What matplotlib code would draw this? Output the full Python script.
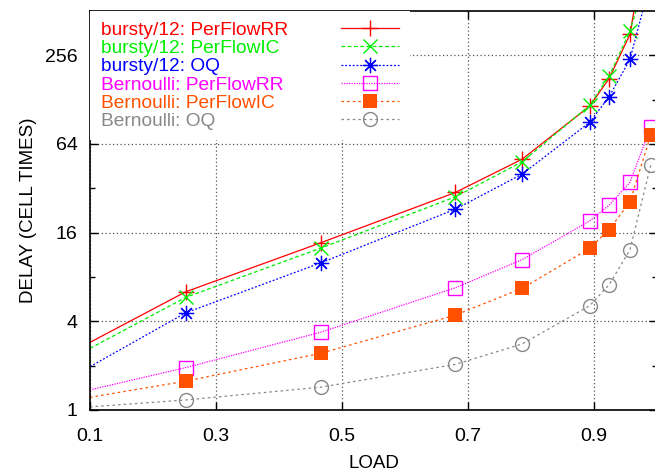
import matplotlib
matplotlib.use("Agg")
import matplotlib.pyplot as plt
from matplotlib.ticker import FixedLocator, NullFormatter, FixedFormatter

plt.rcParams['font.family'] = ['Liberation Sans', 'DejaVu Sans']

# ---- data ----
load = [0.10, 0.252, 0.467, 0.680, 0.786, 0.893, 0.924, 0.957, 0.99]

bursty_rr = [2.88, 6.35, 13.7, 30.0, 50.5, 115.7, 178.0, 355.0, 2340.0]
bursty_ic = [2.62, 5.82, 12.6, 28.0, 48.5, 117.0, 185.0, 374.0, 1100.0]
bursty_oq = [1.97, 4.57, 10.0, 23.1, 40.0, 89.7, 134.0, 240.0, 820.0]
bern_rr = [1.37, 1.94, 3.38, 6.76, 10.5, 19.2, 24.6, 35.1, 83.3]
bern_ic = [1.22, 1.57, 2.43, 4.41, 6.70, 12.5, 16.8, 25.8, 73.5]
bern_oq = [1.05, 1.17, 1.43, 2.04, 2.81, 5.10, 7.09, 12.2, 46.0]

labels = ["bursty/12: PerFlowRR", "bursty/12: PerFlowIC", "bursty/12: OQ",
          "Bernoulli: PerFlowRR", "Bernoulli: PerFlowIC", "Bernoulli: OQ"]

x_ticks = [0.1, 0.3, 0.5, 0.7, 0.9]
x_ticklabels = ["0.1", "0.3", "0.5", "0.7", "0.9"]
y_ticks = [1, 4, 16, 64, 256]
y_ticklabels = ["1", "4", "16", "64", "256"]
y_minor = [2, 8, 32, 128]

# ---- styles ----
styles = [
    dict(color='#ff0000', ls='-', marker='+', ms=11.5, mew=1.0, mfc='none'),
    dict(color='#00ee00', ls=(0, (3, 2)), marker='x', ms=10, mew=1.0, mfc='none'),
    dict(color='#0000ff', ls=(0, (1.5, 1.5)), marker=(8, 2, 0), ms=11, mew=0.9, mfc='none'),
    dict(color='#ff00ff', ls=(0, (1, 1)), marker='s', ms=9.5, mew=1.0, mfc='none'),
    dict(color='#ff5000', ls=(0, (2, 2.5)), marker='s', ms=10, mew=0.0, mfc='#ff5000'),
    dict(color='#888888', ls=(0, (2, 2.5)), marker='o', ms=10, mew=1.0, mfc='none'),
]

series = [bursty_rr, bursty_ic, bursty_oq, bern_rr, bern_ic, bern_oq]

W, H = 655, 472
fig = plt.figure(figsize=(W/100, H/100), dpi=100)
ax_l, ax_b, ax_w, ax_h = 90, 62, 567, 399
ax = fig.add_axes([ax_l/W, ax_b/H, ax_w/W, ax_h/H])

lines = []
for ys, lab, st in zip(series, labels, styles):
    ln, = ax.plot(load, ys, label=lab, lw=0.9, color=st['color'], ls=st['ls'],
                  marker=st['marker'], ms=st['ms'], mew=st['mew'],
                  mfc=st['mfc'], mec=st['color'], markevery=list(range(1, len(load))))
    lines.append(ln)

ax.set_yscale('log', base=2)
ax.set_xlim(0.1, 1.0)
ax.set_ylim(1, 512)

ax.xaxis.set_major_locator(FixedLocator(x_ticks))
ax.xaxis.set_major_formatter(FixedFormatter(x_ticklabels))
ax.xaxis.set_minor_locator(FixedLocator([]))
ax.yaxis.set_major_locator(FixedLocator(y_ticks))
ax.yaxis.set_major_formatter(FixedFormatter(y_ticklabels))
ax.yaxis.set_minor_locator(FixedLocator(y_minor))
ax.yaxis.set_minor_formatter(NullFormatter())

ax.tick_params(which='both', direction='in', top=True, right=True, labelsize=14)
ax.tick_params(which='major', length=6, width=1.0)
ax.tick_params(which='minor', length=3.5, width=1.0)
ax.tick_params(axis='x', pad=13)
ax.tick_params(axis='y', pad=9)

ax.grid(True, which='major', ls=(0, (1, 2)), color='#555555', lw=0.9)
ax.set_axisbelow(True)

for sp in ax.spines.values():
    sp.set_linewidth(1.2)

ax.set_xlabel("LOAD", fontsize=13.5, labelpad=7)
ax.set_ylabel("DELAY (CELL TIMES)", fontsize=13.5, labelpad=6)

# ---- legend: left-aligned coloured texts, samples in a separate column ----
fs = 13.8
fs_px = fs * 100 / 72
bpad = 0.55
lspace = 0.04
leg1 = ax.legend(lines, labels, loc='upper left', fontsize=fs, markerfirst=True,
                 bbox_to_anchor=(0.0, 0.0, 320/ax_w, 1.0), mode='expand',
                 frameon=True, facecolor='white', edgecolor='none', framealpha=1,
                 fancybox=False, borderaxespad=0.0, borderpad=bpad,
                 labelspacing=lspace, handlelength=0.0, handletextpad=0.0,
                 labelcolor='linecolor')
for h in leg1.legend_handles:
    h.set_visible(False)
ax.add_artist(leg1)

x2 = (341 - ax_l - bpad * fs_px) / ax_w
leg2 = ax.legend(lines, [''] * len(lines), loc='upper left', fontsize=fs,
                 bbox_to_anchor=(x2, 1.0), frameon=False,
                 borderaxespad=0.0, borderpad=bpad, labelspacing=lspace,
                 handlelength=58/fs_px, handletextpad=0.0, handleheight=0.7)

fig.savefig("out.png", dpi=100)
